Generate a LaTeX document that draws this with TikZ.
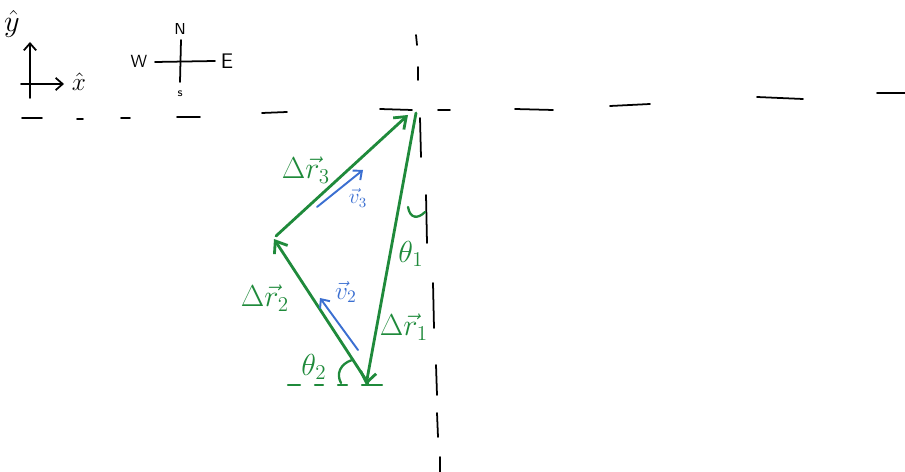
\documentclass[tikz,border=0pt]{standalone}
\usetikzlibrary{arrows.meta}
\definecolor{penGreen}{HTML}{1F8A3B}
\definecolor{penBlue}{HTML}{3B6FD1}
\begin{document}
\begin{tikzpicture}[x=0.02cm,y=-0.02cm,>={Straight Barb[length=6pt,width=9pt]},
  disp/.style={penGreen,line width=1.6pt,line cap=round},
  vel/.style={penBlue,line width=1.1pt,line cap=round},
  guide/.style={black,line width=1pt,line cap=round},
  lab/.style={inner sep=0pt,font=\LARGE},
  compass/.style={inner sep=0pt,font=\sffamily}]
\useasboundingbox (0,0) rectangle (905,472);

% axes and compass
\coordinate (yfoot) at (30,98);
\coordinate (ytip) at (30,42);
\coordinate (xfoot) at (21,84);
\coordinate (xtip) at (64,84);
\draw[guide,->,>={Straight Barb[length=4pt,width=7pt]}] (yfoot) -- (ytip);
\draw[guide,->,>={Straight Barb[length=4pt,width=7pt]}] (xfoot) -- (xtip);
\node[lab] (yhat) at (12,24) {$\hat{y}$};
\node[lab,font=\Large] (xhat) at (79,82) {$\hat{x}$};

\node[compass,font=\sffamily\small] (north) at (180,29) {N};
\node[compass,font=\sffamily\scriptsize] (south) at (180,94) {s};
\node[compass] (west) at (139,61) {W};
\node[compass,font=\sffamily\large] (east) at (227,61) {E};
\draw[guide] (181,40) -- (180,82);
\draw[guide] (155,62) -- (215,61);

% dashed reference lines
\foreach \xa/\ya/\xb/\yb in {22/118/42/118, 77/119/83/119, 121/118/130/118,
  177/117/200/117, 262/113/287/112, 380/109/412/110, 438/110/450/110,
  515/109/553/110, 610/106/650/104, 757/97/803/99, 877/93/905/93}
  \draw[guide] (\xa,\ya) -- (\xb,\yb);
\foreach \xa/\ya/\xb/\yb in {416/35/417/45, 418/67/418/80, 420/118/421/157,
  426/195/427/243, 433/283/434/328, 436/365/437/395, 437/413/438/437,
  440/457/440/472}
  \draw[guide] (\xa,\ya) -- (\xb,\yb);

% triangle corners
\coordinate (top) at (416,113);
\coordinate (bot) at (366,385);
\coordinate (left) at (274,239);
\coordinate (topend) at (408,115);
\coordinate (botstart) at (368,383);
\coordinate (leftstart) at (276,236);

\draw[disp,->] (top) -- (bot);
\draw[disp,->] (botstart) -- (left);
\draw[disp,->] (leftstart) -- (topend);

% horizontal at the bottom corner
\foreach \xa/\xb in {288/300, 315/323, 338/347, 362/382}
  \draw[disp,line width=1.3pt] (\xa,385) -- (\xb,385);

% angle marks
\draw[disp,line width=1.3pt] (408,207) .. controls (410,219) and (418,219) .. (425,212);
\draw[disp,line width=1.3pt] (352,360) .. controls (340,364) and (336,374) .. (341,383);

% velocities
\coordinate (vthreea) at (317,207);
\coordinate (vthreeb) at (363,170);
\coordinate (vtwoa) at (358,350);
\coordinate (vtwob) at (320,298);
\draw[vel,->,>={Straight Barb[length=4pt,width=7pt]}] (vthreea) -- (vthreeb);
\draw[vel,->,>={Straight Barb[length=4pt,width=7pt]}] (vtwoa) -- (vtwob);

% labels
\node[lab,text=penGreen] (drthree) at (306,170) {$\Delta\vec{r}_3$};
\node[lab,text=penGreen] (drtwo) at (265,298) {$\Delta\vec{r}_2$};
\node[lab,text=penGreen] (drone) at (404,327) {$\Delta\vec{r}_1$};
\node[lab,text=penGreen] (thone) at (411,254) {$\theta_1$};
\node[lab,text=penGreen] (thtwo) at (314,367) {$\theta_2$};
\node[lab,text=penBlue,font=\large] (vthree) at (358,198) {$\vec{v}_3$};
\node[lab,text=penBlue,font=\Large] (vtwo) at (346,292) {$\vec{v}_2$};
\end{tikzpicture}
\end{document}
